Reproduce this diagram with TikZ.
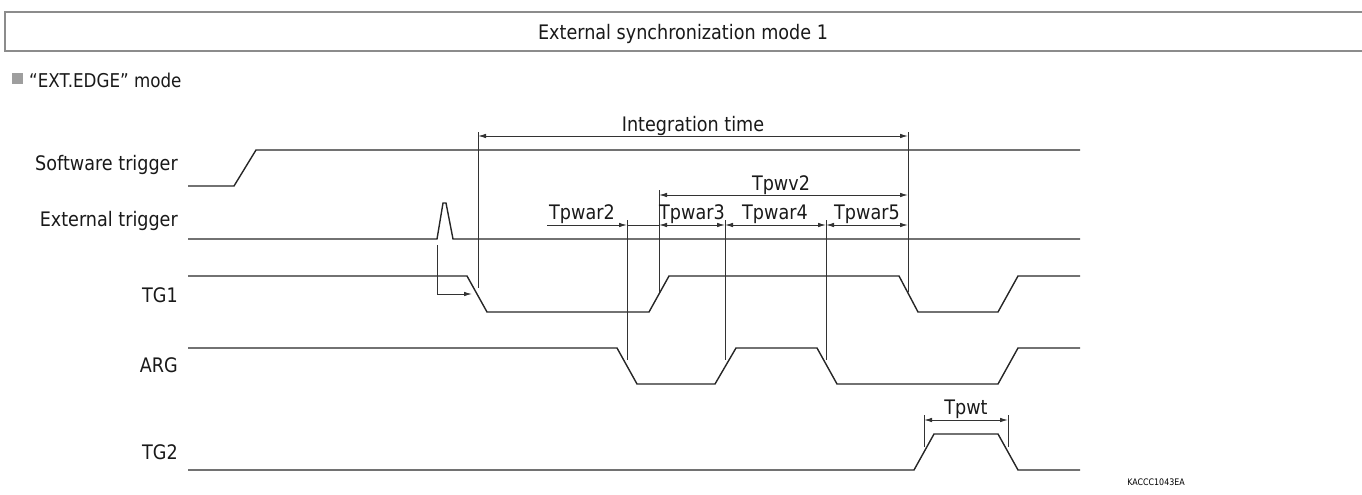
\documentclass[tikz,border=0pt]{standalone}
\usepackage{fontspec}
\setmainfont{DejaVu Sans}[FakeStretch=0.88]
\usetikzlibrary{arrows.meta}
\begin{document}
\begin{tikzpicture}[x=1pt,y=-1pt,
  sig/.style={line width=1.4pt, draw=black!85, line join=miter},
  dim/.style={line width=0.9pt, draw=black!80},
  arr/.style={dim,-{Latex[length=8pt,width=4.5pt]}},
  darr/.style={dim,{Latex[length=8pt,width=4.5pt]}-{Latex[length=8pt,width=4.5pt]}},
  lab/.style={font=\fontsize{20}{24}\selectfont, inner sep=0pt, text=black!90},
]
\useasboundingbox (0,0) rectangle (1362,495);

% title bar
\draw[line width=1.3pt, draw=black!45] (1363,12) -- (5,12) -- (5,51) -- (1363,51);
\node[lab, anchor=base] (title) at (683,40) {External synchronization mode 1};

% subtitle
\fill[black!38] (12,73) rectangle (23,84);
\node[lab, font=\fontsize{19}{23}\selectfont, anchor=base west] (mode) at (29,87) {“EXT.EDGE” mode};

% signal names
\node[lab, anchor=base east] (nsw)  at (178,170) {Software trigger};
\node[lab, anchor=base east] (next) at (178,226) {External trigger};
\node[lab, anchor=base east] (ntg1) at (178,302) {TG1};
\node[lab, anchor=base east] (narg) at (178,372) {ARG};
\node[lab, anchor=base east] (ntg2) at (178,459) {TG2};

% waveforms
\draw[sig] (188,186) -- (234,186) -- (256,150) -- (1080,150);
\draw[sig] (188,239) -- (437,239) -- (443,203) -- (446,203) -- (453,239) -- (1080,239);
\draw[sig] (188,276) -- (467,276) -- (487,312) -- (649,312) -- (669,276) -- (899,276)
  -- (918,312) -- (998,312) -- (1018,276) -- (1080,276);
\draw[sig] (188,348) -- (617,348) -- (637,384) -- (715,384) -- (736,348) -- (817,348)
  -- (837,384) -- (998,384) -- (1018,348) -- (1080,348);
\draw[sig] (188,470) -- (914,470) -- (934,434) -- (998,434) -- (1018,470) -- (1080,470);

% trigger -> TG1 arrow
\coordinate (pA) at (437,245);
\coordinate (pB) at (437,294);
\coordinate (pC) at (472,294);
\draw[arr] (pA) -- (pB) -- (pC);

% integration time
\coordinate (i1t) at (478,132); \coordinate (i1b) at (478,288);
\coordinate (i2t) at (908,132); \coordinate (i2b) at (908,292);
\draw[dim] (i1t) -- (i1b);
\draw[dim] (i2t) -- (i2b);
\draw[darr] (478,136) -- (908,136);
\node[lab, anchor=base] (lint) at (693,131) {Integration time};

% Tpwv2
\coordinate (v1t) at (659,190); \coordinate (v1b) at (659,292);
\draw[dim] (v1t) -- (v1b);
\draw[darr] (659,195) -- (908,195);
\node[lab, anchor=base] (lv2) at (781,190) {Tpwv2};

% Tpwar row
\coordinate (w2t) at (627,220); \coordinate (w2b) at (627,360);
\coordinate (w3t) at (725,220); \coordinate (w3b) at (725,360);
\coordinate (w4t) at (826,220); \coordinate (w4b) at (826,360);
\draw[dim] (w2t) -- (w2b);
\draw[dim] (w3t) -- (w3b);
\draw[dim] (w4t) -- (w4b);
\draw[dim] (627,225) -- (659,225);
\draw[arr] (547,225) -- (627,225);
\draw[darr] (659,225) -- (725,225);
\draw[darr] (725,225) -- (826,225);
\draw[darr] (826,225) -- (908,225);
\node[lab, anchor=base] (lw2) at (582,219) {Tpwar2};
\node[lab, anchor=base] (lw3) at (692,219) {Tpwar3};
\node[lab, anchor=base] (lw4) at (775,219) {Tpwar4};
\node[lab, anchor=base] (lw5) at (867,219) {Tpwar5};

% Tpwt
\coordinate (t1t) at (924,415); \coordinate (t1b) at (924,447);
\coordinate (t2t) at (1008,415); \coordinate (t2b) at (1008,447);
\draw[dim] (t1t) -- (t1b);
\draw[dim] (t2t) -- (t2b);
\draw[darr] (924,420) -- (1008,420);
\node[lab, anchor=base] (lwt) at (966,414) {Tpwt};

% figure code
\node[inner sep=0pt, anchor=base, font=\fontsize{9}{11}\selectfont] (code) at (1156,485) {KACCC1043EA};
\end{tikzpicture}
\end{document}
